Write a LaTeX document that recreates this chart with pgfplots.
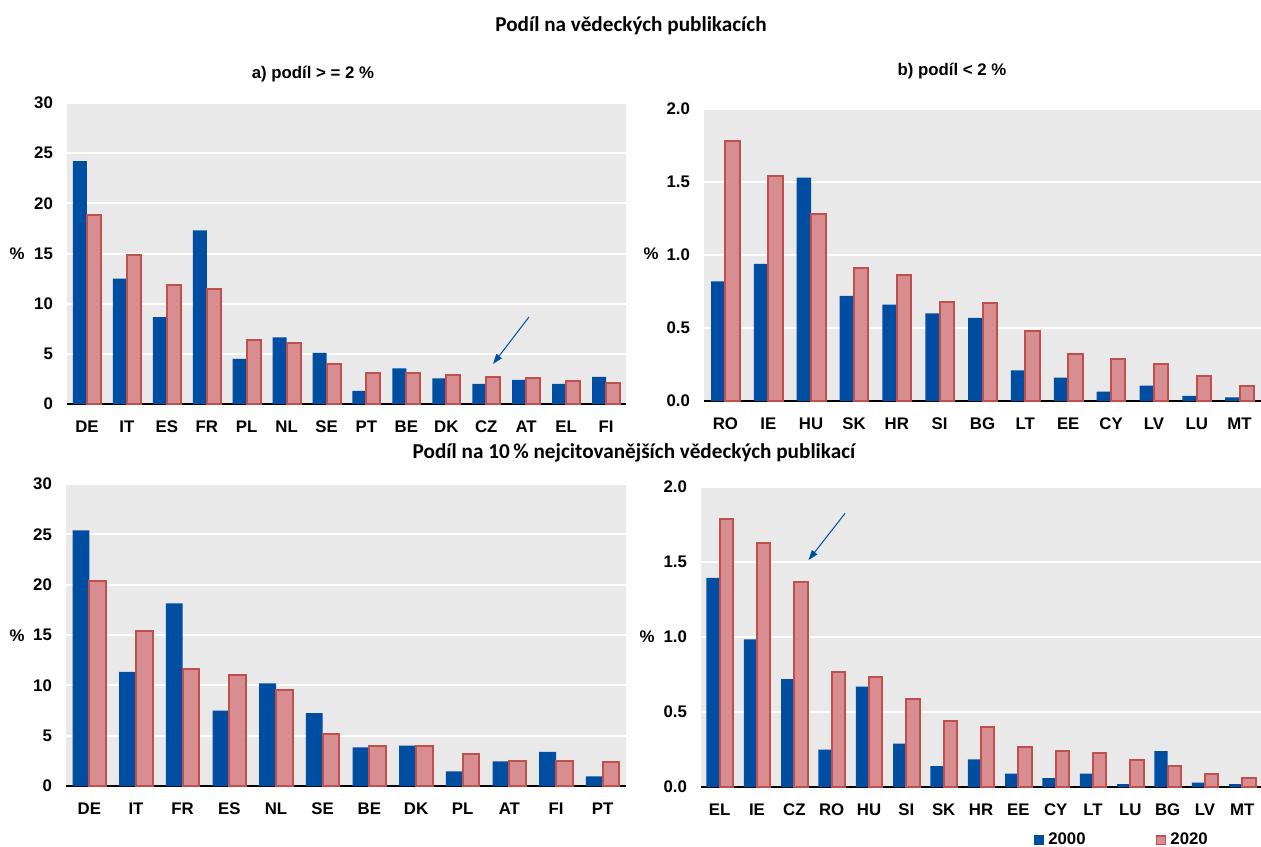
\documentclass[border=0pt]{standalone}
\usepackage{fontspec}
\setmainfont{Liberation Sans}
\newfontfamily\calibri{Carlito}
\usepackage{pgfplots}
\pgfplotsset{compat=1.18}
\usepackage{pgfplotstable}
\usetikzlibrary{arrows.meta}

\definecolor{ecbblue}{RGB}{0,78,162}
\definecolor{pinkfill}{RGB}{216,142,144}
\definecolor{pinkedge}{RGB}{192,80,77}
\definecolor{panelgray}{RGB}{233,233,233}

% share of scientific publications, >= 2 %
\pgfplotstableread{
x lab y00 y20
0 DE 24.2 18.8
1 IT 12.5 14.9
2 ES 8.65 11.9
3 FR 17.3 11.45
4 PL 4.5 6.35
5 NL 6.65 6.05
6 SE 5.1 3.95
7 PT 1.3 3.05
8 BE 3.55 3.05
9 DK 2.55 2.85
10 CZ 2.0 2.65
11 AT 2.4 2.55
12 EL 2.0 2.25
13 FI 2.7 2.1
}\tabA

% share of scientific publications, < 2 %
\pgfplotstableread{
x lab y00 y20
0 RO 0.82 1.78
1 IE 0.94 1.54
2 HU 1.53 1.28
3 SK 0.72 0.91
4 HR 0.66 0.865
5 SI 0.60 0.68
6 BG 0.57 0.67
7 LT 0.21 0.48
8 EE 0.16 0.325
9 CY 0.065 0.285
10 LV 0.105 0.255
11 LU 0.035 0.17
12 MT 0.025 0.10
}\tabB

% share of the 10 % most cited publications, large countries
\pgfplotstableread{
x lab y00 y20
0 DE 25.4 20.4
1 IT 11.35 15.4
2 FR 18.15 11.6
3 ES 7.5 11.05
4 NL 10.2 9.5
5 SE 7.25 5.2
6 BE 3.85 3.95
7 DK 4.0 3.95
8 PL 1.45 3.2
9 AT 2.45 2.5
10 FI 3.4 2.5
11 PT 0.95 2.4
}\tabC

% share of the 10 % most cited publications, small countries
\pgfplotstableread{
x lab y00 y20
0 EL 1.395 1.79
1 IE 0.985 1.63
2 CZ 0.72 1.37
3 RO 0.25 0.765
4 HU 0.67 0.735
5 SI 0.29 0.59
6 SK 0.14 0.44
7 HR 0.185 0.40
8 EE 0.09 0.265
9 CY 0.06 0.24
10 LT 0.09 0.23
11 LU 0.02 0.18
12 BG 0.24 0.14
13 LV 0.03 0.09
14 MT 0.02 0.06
}\tabD

\newcommand\lblfont{\bfseries\fontsize{8.4}{10}\selectfont}
\newcommand\headfont{\calibri\bfseries\fontsize{10.6}{12}\selectfont}

\pgfplotsset{
  panel/.style={
    scale only axis, anchor=south west,
    axis background/.style={fill=panelgray},
    axis x line*=bottom, axis y line*=left,
    y axis line style={draw=none},
    x axis line style={black, line width=0.75pt},
    ymajorgrids, grid style={white, line width=1pt},
    major tick length=0pt,
    ymin=0, ybar=0pt,
    tick label style={font=\lblfont},
    xticklabel style={yshift=-5pt},
    yticklabel style={xshift=-3.5pt},
    /pgf/number format/assume math mode=true,
    xtick=data,
    clip=false,
  },
  fracticks/.style={ymax=2, ytick={0,0.5,...,2},
    yticklabel style={/pgf/number format/.cd, fixed, fixed zerofill, precision=1}},
  pcticks/.style={ymax=30, ytick={0,5,...,30}},
  old/.style={fill=ecbblue, draw=none,
    legend image code/.code={\path[fill=ecbblue] (0pt,-2.6pt) rectangle (5.4pt,2.6pt);}},
  new/.style={fill=pinkfill, draw=pinkedge, line width=1pt,
    legend image code/.code={\path[fill=pinkfill, draw=pinkedge, line width=0.9pt] (0.45pt,-2.15pt) rectangle (4.95pt,2.15pt);}},
}

\begin{document}
\begin{tikzpicture}
\path[use as bounding box] (0,0) rectangle (630.5pt,-423pt);

\node[font=\headfont] at (315.5pt,-13pt) {Podíl na vědeckých publikacích};
\node[font=\headfont] at (317pt,-226.5pt) {Podíl na 10\,\% nejcitovanějších vědeckých publikací};
\node[font=\lblfont] at (156.5pt,-37pt) {a) podíl > = 2 \%};
\node[font=\lblfont] at (476pt,-35.5pt) {b) podíl < 2 \%};
\node[font=\lblfont] at (8.5pt,-127pt) {\%};
\node[font=\lblfont] at (325.5pt,-127pt) {\%};
\node[font=\lblfont] at (8.5pt,-318pt) {\%};
\node[font=\lblfont] at (323.5pt,-318.5pt) {\%};

% a) share >= 2 %
\begin{axis}[panel, pcticks, at={(33.5pt,-202pt)}, width=279.5pt, height=150.5pt,
  xmin=-0.5, xmax=13.5, bar width=7pt,
  xticklabels from table={\tabA}{lab}]
  \addplot[old] table[x=x, y=y00] {\tabA};
  \addplot[new] table[x=x, y=y20] {\tabA};
  \draw[ecbblue, line width=0.5pt, -{Triangle[length=5pt,width=3.4pt]}]
    (axis cs:11.07,8.67) -- (axis cs:10.17,3.99);
\end{axis}

% b) share < 2 %
\begin{axis}[panel, fracticks, at={(352pt,-200.5pt)}, width=278.5pt, height=146pt,
  xmin=-0.5, xmax=12.5, bar width=7.2pt,
  xticklabels from table={\tabB}{lab}]
  \addplot[old] table[x=x, y=y00] {\tabB};
  \addplot[new] table[x=x, y=y20] {\tabB};
\end{axis}

% top 10 % cited, large
\begin{axis}[panel, pcticks, at={(33pt,-393pt)}, width=280pt, height=151pt,
  xmin=-0.5, xmax=11.5, bar width=8.4pt,
  xticklabels from table={\tabC}{lab}]
  \addplot[old] table[x=x, y=y00] {\tabC};
  \addplot[new] table[x=x, y=y20] {\tabC};
\end{axis}

% top 10 % cited, small
\begin{axis}[panel, fracticks, at={(350.5pt,-393.5pt)}, width=280pt, height=150pt,
  xmin=-0.5, xmax=14.5, bar width=6.6pt,
  xticklabels from table={\tabD}{lab},
  legend columns=2,
  legend style={at={(0.593,-0.177)}, anchor=west, draw=none, fill=none,
    font=\lblfont, inner sep=0pt,
    /tikz/every even column/.append style={column sep=33pt}},
  legend cell align=left]
  \addplot[old] table[x=x, y=y00] {\tabD};
  \addlegendentry{2000}
  \addplot[new] table[x=x, y=y20] {\tabD};
  \addlegendentry{2020}
  \draw[ecbblue, line width=0.5pt, -{Triangle[length=5pt,width=3.4pt]}]
    (axis cs:3.36,1.825) -- (axis cs:2.38,1.513);
\end{axis}
\end{tikzpicture}
\end{document}
